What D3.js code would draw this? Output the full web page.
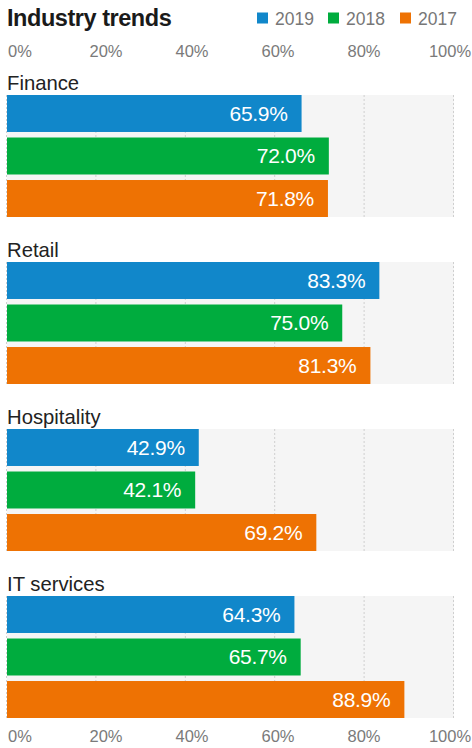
<!DOCTYPE html>
<html>
<head>
<meta charset="utf-8">
<script src="https://cdn.jsdelivr.net/npm/d3@7"></script>
<style>
  html, body { margin: 0; padding: 0; background: #fff; }
  svg { display: block; font-family: "Liberation Sans", Arial, sans-serif; }
</style>
</head>
<body>
<svg id="chart" width="472" height="748"></svg>
<script>
// Share of respondents by industry, per survey year
const industries = ["Finance", "Retail", "Hospitality", "IT services"];
const years = ["2019", "2018", "2017"];
const values2019 = [65.9, 83.3, 42.9, 64.3];
const values2018 = [72.0, 75.0, 42.1, 65.7];
const values2017 = [71.8, 81.3, 69.2, 88.9];
const tickValues = [0, 20, 40, 60, 80, 100];
const yearColors = ["#1187ca", "#00ac3e", "#ee7203"];

const seriesByYear = [values2019, values2018, values2017];
const rows = industries.map((name, i) => ({
  name,
  bars: years.map((y, j) => ({ year: y, value: seriesByYear[j][i] }))
}));

const svg = d3.select("#chart");

const x = d3.scaleLinear().domain([0, 100]).range([7, 454]);
// tick labels sit on a slightly wider spread than the plot area
const xLabel = d3.scaleLinear().domain([0, 100]).range([19.5, 449.5]);

const groupY = d3.scaleBand().domain(industries).range([95, 763]).paddingInner(0).paddingOuter(0);
const groupH = 122;
const barY = d3.scaleBand().domain(years).range([0, groupH]).paddingInner(0.13);
const color = d3.scaleOrdinal().domain(years).range(yearColors);

// Title
svg.append("text")
  .attr("x", 7).attr("y", 26)
  .attr("font-size", 23.5).attr("font-weight", 700)
  .attr("letter-spacing", -0.45)
  .attr("fill", "#1a1a1a")
  .text("Industry trends");

// Legend, right aligned to the plot edge
const legendX = [257, 328, 400];
const legend = svg.append("g");
years.forEach((y, i) => {
  const g = legend.append("g").attr("transform", `translate(${legendX[i]},0)`);
  g.append("rect").attr("x", 0).attr("y", 12.5).attr("width", 11).attr("height", 11).attr("fill", color(y));
  g.append("text").attr("x", 18).attr("y", 25).attr("font-size", 17.5).attr("fill", "#777").text(y);
});

// Top and bottom percentage axes
function pctAxis(yPos) {
  const g = svg.append("g").attr("transform", `translate(0,${yPos})`)
    .call(d3.axisTop(xLabel).tickValues(tickValues).tickFormat(d => d + "%").tickSize(0).tickPadding(0));
  g.select(".domain").remove();
  g.selectAll("text")
    .attr("font-size", 16.5).attr("fill", "#7a7a7a")
    .attr("font-family", "Liberation Sans, Arial, sans-serif")
    .attr("text-anchor", "middle").attr("dy", 0);
}
pctAxis(57);
pctAxis(742);

// Industry groups
const groups = svg.selectAll("g.industry").data(rows).join("g")
  .attr("class", "industry")
  .attr("transform", d => `translate(0,${groupY(d.name)})`);

groups.append("text")
  .attr("x", 7).attr("y", -5)
  .attr("font-size", 20.3).attr("fill", "#222")
  .text(d => d.name);

groups.append("rect")
  .attr("x", x(0)).attr("y", 0)
  .attr("width", x(100) - x(0)).attr("height", groupH)
  .attr("fill", "#f5f5f5");

groups.each(function() {
  d3.select(this).selectAll("line.grid").data(tickValues).join("line")
    .attr("class", "grid")
    .attr("x1", d => x(d) - 0.5).attr("x2", d => x(d) - 0.5)
    .attr("y1", 0).attr("y2", groupH)
    .attr("stroke", "#cfcfcf").attr("stroke-width", 1)
    .attr("stroke-dasharray", "2,2");
});

const bars = groups.selectAll("g.bar").data(d => d.bars).join("g")
  .attr("class", "bar")
  .attr("transform", d => `translate(0,${barY(d.year)})`);

bars.append("rect")
  .attr("x", x(0)).attr("y", 0)
  .attr("width", d => x(d.value) - x(0))
  .attr("height", barY.bandwidth())
  .attr("fill", d => color(d.year));

bars.append("text")
  .attr("x", d => x(d.value) - 14)
  .attr("y", barY.bandwidth() / 2 + 7.5)
  .attr("text-anchor", "end")
  .attr("font-size", 21).attr("fill", "#fff")
  .attr("letter-spacing", -0.3)
  .text(d => d.value.toFixed(1) + "%");
</script>
</body>
</html>
